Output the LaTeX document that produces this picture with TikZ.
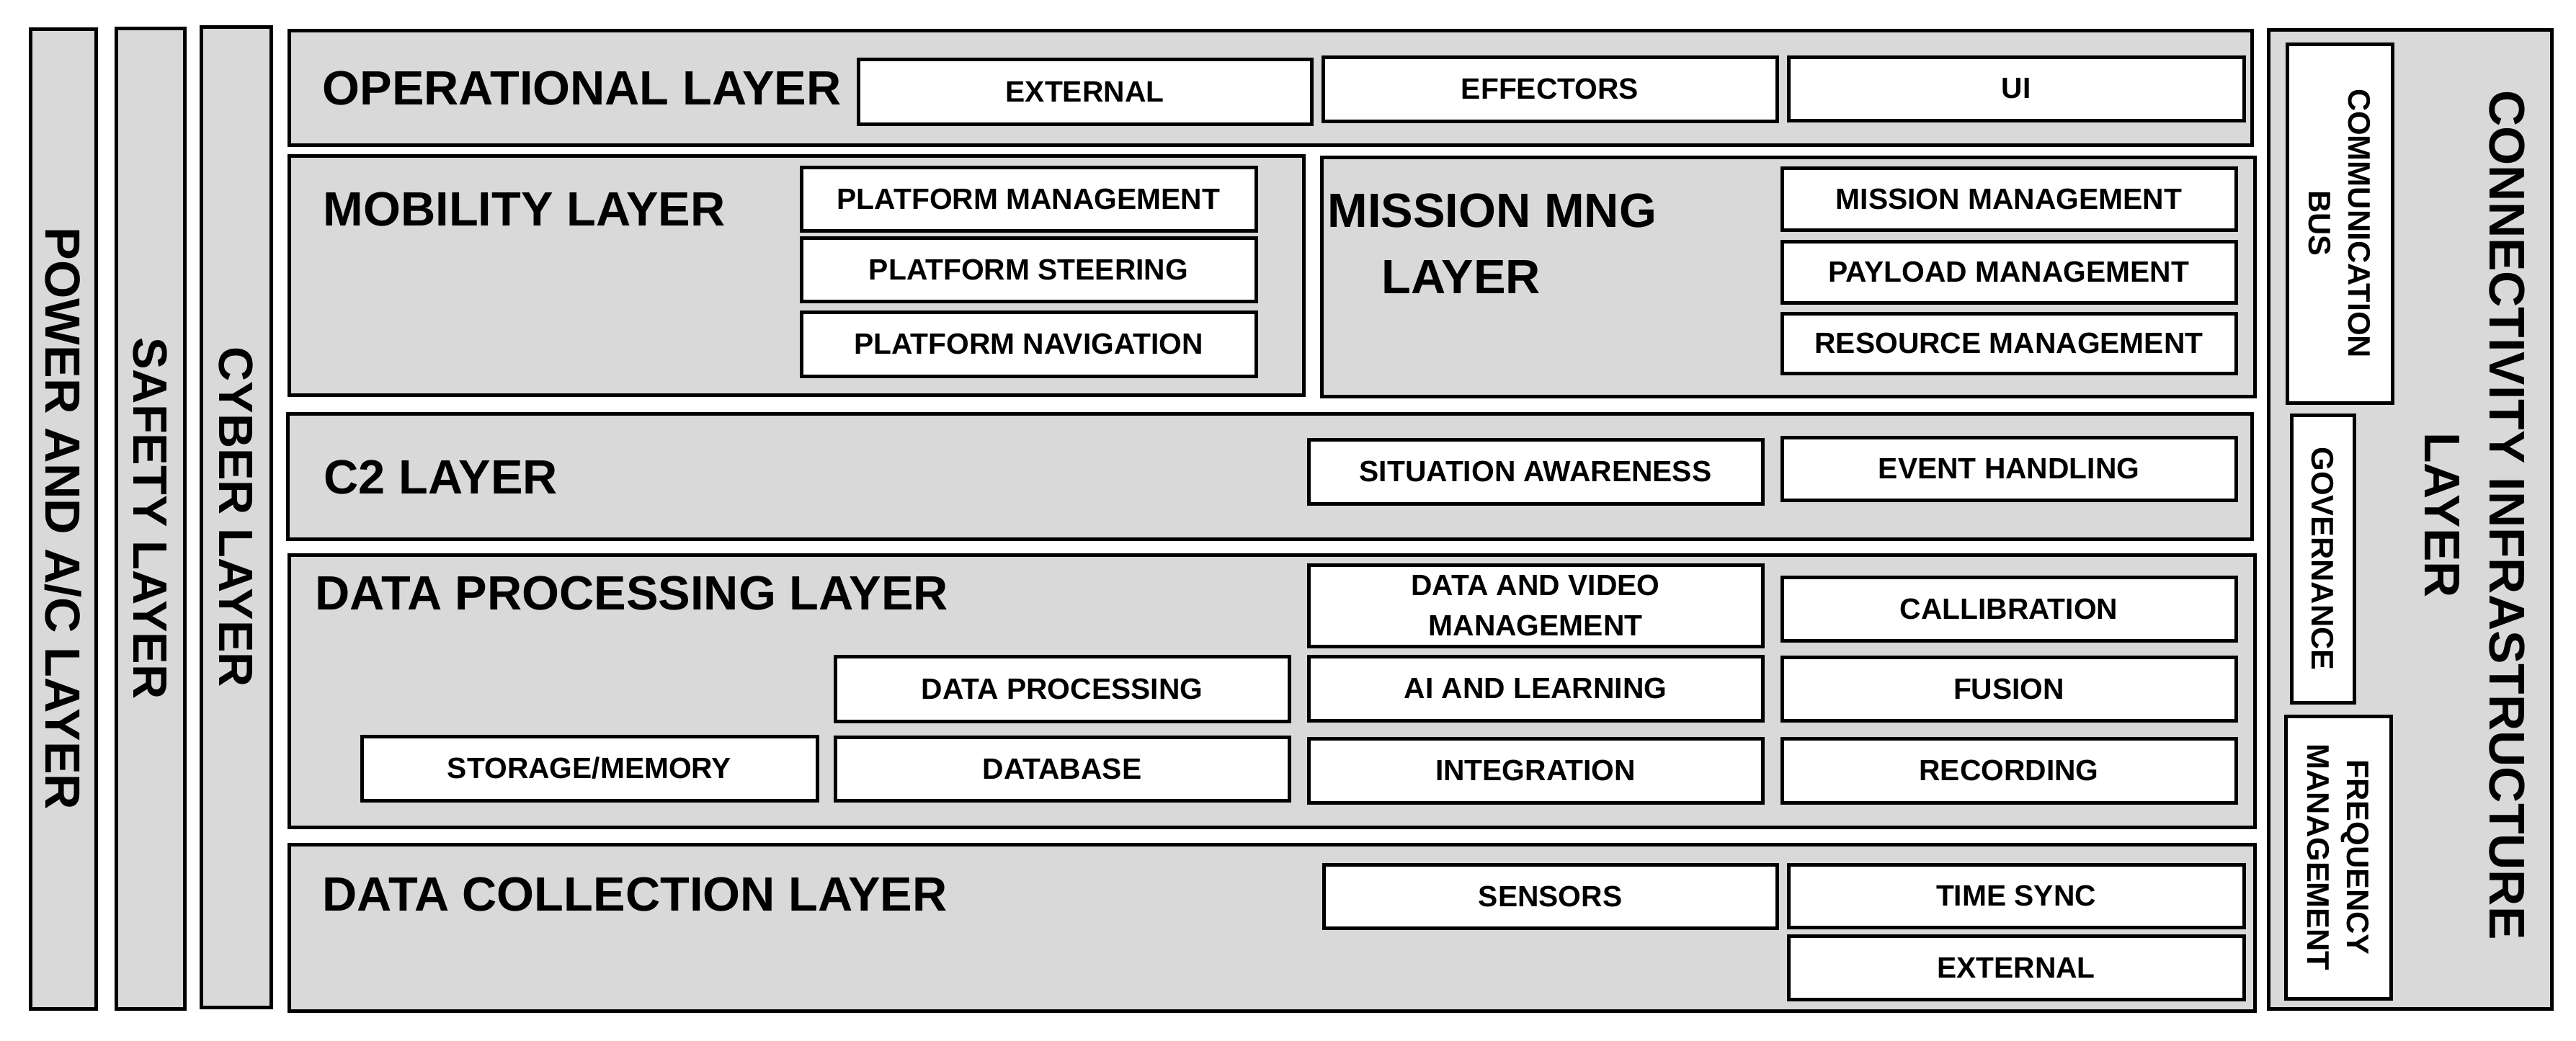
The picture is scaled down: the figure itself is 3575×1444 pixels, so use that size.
\documentclass[tikz,border=0pt]{standalone}
\usepackage{fontspec}
\setmainfont{Liberation Sans}
\definecolor{laygray}{HTML}{D9D9D9}
\tikzset{
  layer/.style={draw=black, fill=laygray, line width=0.5mm, inner sep=0pt, outer sep=0pt},
  wbox/.style={draw=black, fill=white, line width=0.5mm, inner sep=0pt, outer sep=0pt, align=center,
     font=\fontsize{11.6}{16}\selectfont\bfseries},
  head/.style={anchor=west, inner sep=0pt, font=\fontsize{19}{22}\selectfont\bfseries},
  vbig/.style={rotate=-90, inner sep=0pt, align=center, font=\fontsize{19}{25.6}\selectfont\bfseries},
  vsmall/.style={rotate=-90, inner sep=0pt, align=center, font=\fontsize{12.3}{15.7}\selectfont\bfseries},
}
\newcommand\cell[7]{\node[#1, minimum width={(#5-#3)*0.1mm}, minimum height={(#6-#4)*0.1mm}] (#2) at ({(#3+#5)/2},{(#4+#6)/2}) {#7};}
\begin{document}
\begin{tikzpicture}[x=0.1mm, y=-0.1mm]
\useasboundingbox (0,0) rectangle (3575,1444);
% layers
\cell{layer}{power}{42}{40}{133}{1400}{}
\cell{layer}{safety}{161}{39}{256}{1400}{}
\cell{layer}{cyber}{279}{37}{376}{1398}{}
\cell{layer}{oper}{401}{42}{3125}{201}{}
\cell{layer}{mob}{401}{216}{1809}{548}{}
\cell{layer}{miss}{1834}{218}{3129}{550}{}
\cell{layer}{ctwo}{399}{574}{3125}{748}{}
\cell{layer}{dp}{401}{770}{3129}{1148}{}
\cell{layer}{dc}{401}{1172}{3129}{1403}{}
\cell{layer}{conn}{3148}{41}{3541}{1400}{}
% vertical labels
\node[vbig, font=\fontsize{19.5}{25.6}\selectfont\bfseries] (powerlbl) at (power.center) {POWER AND A/C LAYER};
\node[vbig] (safetylbl) at (safety.center) {SAFETY LAYER};
\node[vbig] (cyberlbl) at (cyber.center) {CYBER LAYER};
\node[vbig, font=\fontsize{19.8}{25.6}\selectfont\bfseries] (connlbl) at (3435,715) {CONNECTIVITY INFRASTRUCTURE\\LAYER};
% headings
\node[head] (operlbl) at (447,122) {OPERATIONAL LAYER};
\node[head] (moblbl) at (448,291) {MOBILITY LAYER};
\node[head] (misslbl) at (1842,293) {MISSION MNG};
\node[head] (misslbltwo) at (1917,385) {LAYER};
\node[head] (ctwolbl) at (449,662) {C2 LAYER};
\node[head] (dplbl) at (437,823) {DATA PROCESSING LAYER};
\node[head] (dclbl) at (447,1241) {DATA COLLECTION LAYER};
% operational boxes
\cell{wbox}{opext}{1191}{82}{1820}{172}{EXTERNAL}
\cell{wbox}{effect}{1836}{79}{2466}{168}{EFFECTORS}
\cell{wbox}{ui}{2482}{79}{3114}{167}{UI}
% mobility
\cell{wbox}{pm}{1112}{232}{1743}{320}{PLATFORM MANAGEMENT}
\cell{wbox}{ps}{1112}{330}{1743}{418}{PLATFORM STEERING}
\cell{wbox}{pn}{1112}{433}{1743}{522}{PLATFORM NAVIGATION}
% mission
\cell{wbox}{mm}{2473}{233}{3103}{319}{MISSION MANAGEMENT}
\cell{wbox}{paym}{2473}{335}{3103}{420}{PAYLOAD MANAGEMENT}
\cell{wbox}{rm}{2473}{435}{3103}{518}{RESOURCE MANAGEMENT}
% c2
\cell{wbox}{sa}{1816}{610}{2446}{699}{SITUATION AWARENESS}
\cell{wbox}{eh}{2473}{607}{3103}{694}{EVENT HANDLING}
% data processing
\cell{wbox}{dvm}{1816}{784}{2446}{897}{DATA AND VIDEO\\MANAGEMENT}
\cell{wbox}{cal}{2473}{801}{3103}{889}{CALLIBRATION}
\cell{wbox}{dpr}{1159}{911}{1789}{1001}{DATA PROCESSING}
\cell{wbox}{ail}{1816}{911}{2446}{1000}{AI AND LEARNING}
\cell{wbox}{fus}{2473}{912}{3103}{1000}{FUSION}
\cell{wbox}{stor}{502}{1022}{1134}{1111}{STORAGE/MEMORY}
\cell{wbox}{db}{1159}{1023}{1789}{1111}{DATABASE}
\cell{wbox}{integ}{1816}{1025}{2446}{1114}{INTEGRATION}
\cell{wbox}{rec}{2473}{1025}{3103}{1114}{RECORDING}
% data collection
\cell{wbox}{sens}{1837}{1200}{2466}{1288}{SENSORS}
\cell{wbox}{ts}{2482}{1200}{3114}{1287}{TIME SYNC}
\cell{wbox}{dcext}{2482}{1299}{3114}{1387}{EXTERNAL}
% connectivity boxes
\cell{wbox}{bus}{3174}{61}{3320}{559}{}
\cell{wbox}{gov}{3180}{576}{3267}{975}{}
\cell{wbox}{freq}{3172}{994}{3318}{1386}{}
\node[vsmall] (buslbl) at (bus.center) {COMMUNICATION\\BUS};
\node[vsmall] (govlbl) at (gov.center) {GOVERNANCE};
\node[vsmall] (freqlbl) at (freq.center) {FREQUENCY\\MANAGEMENT};
\end{tikzpicture}
\end{document}
